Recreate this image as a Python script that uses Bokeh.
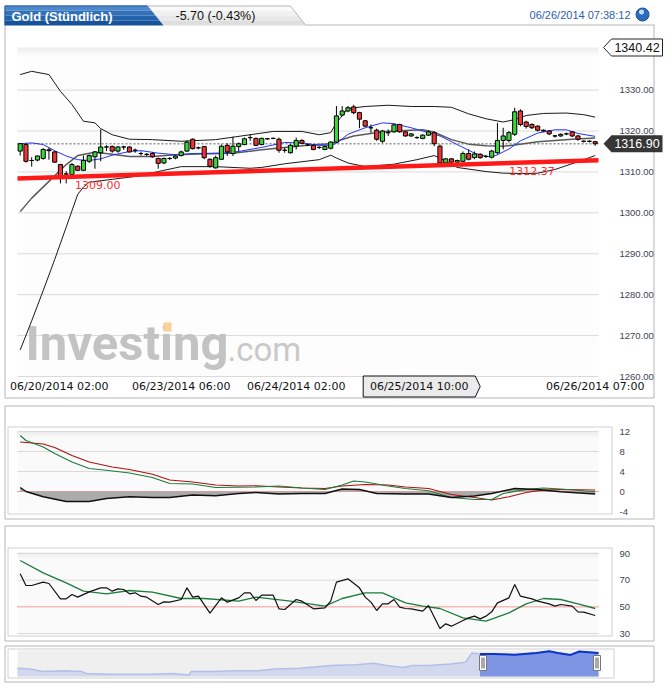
from bokeh.plotting import figure
from bokeh.layouts import column
from bokeh.models import Range1d, ColumnDataSource
from bokeh.core.properties import value
from bokeh.embed import file_html
from bokeh.resources import INLINE

# ---------------------------------------------------------------- data
title_text = "Gold (Stündlich)"
change_text = "-5.70 (-0.43%)"
stamp_text = "06/26/2014 07:38:12"

candle_open = [1315.1, 1316.7, 1312.8, 1312.9, 1313.3, 1315.4, 1314.9, 1311.8, 1309.5, 1309.4,
               1311.4, 1310.4, 1312.6, 1313.7, 1314.7, 1316.1, 1316.2, 1315.1, 1316.1, 1316.1,
               1315.3, 1314.5, 1314.3, 1314.5, 1313.3, 1312.2, 1313.3, 1313.4, 1314.0, 1315.1,
               1318.0, 1315.9, 1316.2, 1313.1, 1311.0, 1313.1, 1316.5, 1314.5, 1316.2, 1316.7,
               1318.4, 1318.2, 1316.7, 1318.1, 1318.2, 1318.0, 1315.3, 1314.7, 1316.3, 1317.7,
               1316.6, 1316.5, 1316.0, 1315.5, 1315.8, 1317.3, 1323.9, 1324.9, 1325.9, 1324.5,
               1322.5, 1320.8, 1320.2, 1317.5, 1319.6, 1319.8, 1321.6, 1319.8, 1318.8, 1318.4,
               1318.2, 1319.0, 1319.6, 1316.3, 1312.2, 1313.2, 1312.4, 1312.6, 1314.5, 1313.5,
               1314.3, 1313.8, 1313.6, 1314.7, 1317.7, 1317.7, 1319.2, 1324.9, 1322.2, 1321.6,
               1321.2, 1320.2, 1320.0, 1318.8, 1318.8, 1319.3, 1319.8, 1318.8, 1317.5, 1317.5,
               1317.4]
candle_high = [1317.1, 1317.0, 1313.6, 1314.0, 1315.8, 1315.9, 1315.1, 1312.0, 1310.2, 1312.2,
               1311.6, 1314.0, 1314.3, 1315.1, 1320.4, 1316.5, 1316.5, 1316.3, 1316.4, 1316.3,
               1315.7, 1315.0, 1314.6, 1314.8, 1313.5, 1313.5, 1313.6, 1314.1, 1315.2, 1317.7,
               1318.2, 1316.2, 1316.4, 1313.3, 1314.0, 1316.7, 1317.0, 1318.6, 1317.2, 1318.4,
               1319.2, 1318.4, 1318.4, 1318.3, 1318.4, 1318.4, 1315.9, 1316.8, 1318.4, 1318.0,
               1316.9, 1316.7, 1316.3, 1316.4, 1317.5, 1326.1, 1326.1, 1326.1, 1326.4, 1324.7,
               1322.7, 1321.6, 1320.6, 1320.3, 1320.4, 1321.8, 1321.8, 1320.0, 1319.5, 1318.7,
               1319.2, 1320.2, 1320.0, 1316.7, 1313.4, 1313.4, 1313.0, 1315.0, 1315.5, 1315.0,
               1314.6, 1314.2, 1315.4, 1322.0, 1320.8, 1320.0, 1325.7, 1325.3, 1322.5, 1321.9,
               1321.4, 1320.4, 1320.2, 1319.0, 1319.4, 1319.6, 1320.0, 1319.0, 1317.7, 1317.7,
               1317.6]
candle_low = [1314.0, 1312.3, 1311.3, 1312.6, 1313.0, 1313.0, 1312.2, 1307.2, 1307.2, 1309.2,
              1310.2, 1310.2, 1312.2, 1310.8, 1312.6, 1315.1, 1314.7, 1314.7, 1315.4, 1314.7,
              1314.7, 1314.0, 1313.9, 1313.5, 1310.8, 1311.9, 1312.9, 1313.1, 1313.8, 1314.9,
              1315.5, 1315.5, 1313.1, 1311.0, 1310.8, 1312.9, 1313.9, 1313.9, 1315.0, 1316.5,
              1317.6, 1316.3, 1316.5, 1317.9, 1318.0, 1314.7, 1314.7, 1314.5, 1315.5, 1316.8,
              1316.3, 1315.3, 1315.6, 1315.3, 1315.5, 1317.1, 1323.6, 1324.6, 1324.1, 1320.7,
              1321.0, 1319.6, 1317.6, 1317.1, 1318.8, 1319.6, 1319.6, 1318.6, 1318.6, 1318.1,
              1318.0, 1318.8, 1316.3, 1312.0, 1311.9, 1312.1, 1312.1, 1312.3, 1312.8, 1313.1,
              1313.2, 1313.4, 1313.3, 1314.3, 1315.5, 1317.2, 1318.8, 1321.2, 1320.6, 1320.5,
              1319.9, 1319.8, 1319.0, 1318.4, 1318.6, 1319.0, 1318.5, 1317.6, 1317.2, 1317.2,
              1316.4]
candle_close = [1316.9, 1312.6, 1312.8, 1313.9, 1315.5, 1315.2, 1312.4, 1309.0, 1309.5, 1311.8,
                1310.4, 1312.8, 1314.0, 1314.9, 1316.1, 1316.1, 1315.1, 1316.1, 1316.1, 1314.9,
                1315.3, 1314.5, 1314.3, 1313.7, 1312.1, 1313.3, 1313.3, 1313.9, 1314.9, 1317.3,
                1315.7, 1315.9, 1313.5, 1311.4, 1313.5, 1316.3, 1314.9, 1316.3, 1316.9, 1318.1,
                1318.4, 1316.5, 1318.2, 1318.1, 1318.2, 1315.3, 1315.3, 1316.5, 1317.7, 1317.0,
                1316.6, 1315.5, 1316.0, 1316.2, 1317.3, 1323.7, 1324.9, 1325.7, 1324.5, 1322.9,
                1321.2, 1320.8, 1318.0, 1320.0, 1319.6, 1321.5, 1319.8, 1318.8, 1319.3, 1318.4,
                1319.0, 1319.8, 1316.9, 1312.2, 1313.2, 1312.4, 1312.8, 1314.5, 1313.1, 1314.4,
                1313.5, 1313.8, 1315.1, 1317.7, 1318.8, 1319.6, 1324.7, 1321.6, 1321.1, 1320.8,
                1320.2, 1320.0, 1319.3, 1318.8, 1319.2, 1319.3, 1318.8, 1318.0, 1317.5, 1317.5,
                1316.9]

time_tick_idx = [28, 48, 100]
time_tick_text = ["06/23/2014 06:00", "06/24/2014 02:00", "06/26/2014 07:00"]
first_time_text = "06/20/2014 02:00"
cursor_idx = 80
cursor_text = "06/25/2014 10:00"

price_ticks = [1260, 1270, 1280, 1290, 1300, 1310, 1320, 1330]
price_low, price_high = 1260.0, 1340.42
last_price = 1316.90

trend_idx = [13.5, 89.0]
trend_val = [1309.00, 1312.37]

bb_up_idx = [0, 2, 5, 7, 9, 11, 13, 14, 16, 19, 23, 28, 34, 40, 44, 49, 52, 54, 55, 57, 60, 64,
             68, 72, 75, 78, 81, 84, 86, 88, 91, 95, 98, 100]
bb_up_val = [1333.8, 1334.6, 1333.8, 1329.7, 1326.5, 1322.4, 1322.0, 1320.6, 1319.1, 1318.0,
             1317.9, 1317.5, 1317.9, 1319.1, 1319.9, 1319.9, 1319.1, 1319.6, 1322.0, 1325.5,
             1326.0, 1326.3, 1326.0, 1326.0, 1325.8, 1324.2, 1323.0, 1322.2, 1322.8, 1323.8,
             1324.3, 1324.4, 1324.0, 1323.4]
bb_mid_idx = [0, 2, 5, 8, 10, 13, 16, 19, 23, 27, 31, 37, 42, 46, 50, 54, 55, 58, 63, 66, 70,
              72, 75, 78, 81, 84, 86, 90, 96, 100]
bb_mid_val = [1300.3, 1303.6, 1307.7, 1311.8, 1314.0, 1314.8, 1314.3, 1313.8, 1313.8, 1314.2,
              1314.4, 1314.6, 1315.4, 1316.0, 1316.5, 1316.9, 1317.5, 1318.8, 1319.8, 1320.1,
              1320.3, 1319.7, 1317.9, 1316.8, 1316.4, 1316.3, 1316.6, 1317.4, 1318.0, 1318.3]
bb_low_idx = [0, 2, 4, 6, 8, 9, 10, 11, 12, 16, 20, 24, 28, 34, 40, 42, 46, 52, 54, 55, 57, 60,
              65, 69, 72, 73, 76, 81, 84, 88, 90, 93, 97, 100]
bb_low_val = [1266.5, 1273.6, 1281.0, 1288.6, 1296.5, 1300.5, 1304.5, 1306.3, 1307.5, 1308.2,
              1308.9, 1310.1, 1311.3, 1311.3, 1310.9, 1311.1, 1312.0, 1313.0, 1314.1, 1313.4,
              1312.2, 1311.3, 1311.9, 1313.0, 1314.0, 1313.4, 1311.1, 1310.1, 1309.7, 1309.6,
              1309.7, 1310.6, 1312.5, 1314.0]
ma_idx = [0, 2, 4, 6, 8, 10, 12, 14, 16, 19, 21, 24, 27, 30, 35, 38, 42, 46, 49, 52, 54, 55,
          57, 60, 63, 65, 68, 71, 73, 76, 79, 81, 82, 83, 85, 87, 90, 93, 95, 97, 100]
ma_val = [1316.9, 1317.1, 1316.7, 1315.2, 1313.9, 1313.0, 1312.8, 1313.2, 1314.1, 1315.0,
          1315.2, 1314.6, 1314.2, 1314.5, 1314.6, 1315.0, 1316.0, 1317.2, 1317.1, 1316.5,
          1316.5, 1317.0, 1319.2, 1320.8, 1322.0, 1321.8, 1320.8, 1319.6, 1318.8, 1316.7,
          1314.6, 1313.8, 1313.7, 1314.2, 1315.6, 1317.6, 1319.5, 1320.3, 1320.3, 1319.4,
          1318.7]

macd_ticks = [-4, 0, 4, 8, 12]
macd_idx = [0, 1, 4, 6, 9, 12, 15, 19, 23, 26, 30, 34, 41, 45, 49, 53, 56, 58, 60, 64, 67,
            71, 75, 79, 82, 84, 88, 91, 94, 100]
macd_val = [11.2, 10.2, 8.9, 7.6, 5.9, 4.6, 4.25, 3.7, 2.8, 1.6, 1.5, 0.8, 0.9, 1.1, 0.7, 0.4,
            1.3, 2.1, 1.9, 1.1, 0.6, 0.15, -1.2, -1.6, -1.6, -0.4, 0.4, 0.7, 0.5, -0.05]
signal_idx = [0, 4, 6, 9, 12, 16, 19, 23, 26, 30, 34, 38, 41, 45, 49, 53, 56, 60, 64, 67, 71,
              75, 79, 82, 85, 88, 91, 94, 100]
signal_val = [9.9, 9.5, 8.8, 7.2, 5.9, 4.9, 4.4, 3.45, 2.3, 1.9, 1.3, 1.1, 1.15, 0.9, 0.7, 0.6,
              1.1, 1.4, 1.3, 0.9, 0.6, -0.6, -1.2, -1.7, -1.05, -0.2, 0.3, 0.4, 0.3]
hist_idx = [0, 1, 4, 8, 12, 15, 19, 23, 26, 30, 34, 38, 41, 45, 49, 53, 56, 59, 62, 67, 71,
            75, 79, 82, 86, 90, 94, 100]
hist_val = [0.8, 0.0, -1.05, -2.0, -2.0, -1.4, -1.05, -1.2, -1.2, -0.7, -0.85, -0.4, -0.2,
            -0.5, -0.4, -0.4, 0.5, 0.4, -0.4, -0.5, -0.5, -1.2, -0.9, -0.4, 0.6, 0.4, -0.05,
            -0.5]

rsi_ticks = [30, 50, 70, 90]
rsi_idx = [0, 1, 2, 4, 5, 7, 8, 9, 10, 12, 14, 15, 16, 17, 18, 19, 20, 21, 22, 24, 25, 26, 28,
           29, 30, 31, 33, 35, 36, 38, 39, 40, 41, 42, 44, 45, 46, 48, 49, 51, 53, 54, 55, 57,
           59, 60, 61, 62, 63, 64, 65, 66, 67, 68, 70, 71, 73, 74, 75, 77, 78, 79, 80, 81, 82,
           83, 85, 86, 87, 89, 90, 92, 93, 94, 96, 97, 98, 100]
rsi_val = [74.75, 66, 66, 68.5, 67.5, 56, 56, 59.25, 57.25, 61.25, 64.25, 64.25, 61.75, 63.5,
           63, 59.75, 60.5, 58, 57.25, 51.75, 53.75, 53.5, 55.5, 64.25, 57.25, 58, 45.25, 56.75,
           53.5, 56.75, 60.5, 60.5, 54.75, 58.75, 58.75, 48.5, 48, 55.5, 54.25, 48.5, 49.25,
           54.25, 68.5, 71, 64.25, 57.25, 53.5, 47.25, 52.25, 52.25, 55.5, 49.75, 48.75, 48.5,
           46.75, 51, 33.75, 37.25, 35.5, 39.75, 41.75, 43, 41, 43, 46.25, 53, 56.75, 66.75, 58,
           56, 54.25, 52.25, 50.5, 51.75, 50.5, 46.25, 46, 43.5]
rsi_ma_idx = [0, 4, 8, 11, 15, 19, 23, 28, 32, 38, 41, 47, 53, 56, 60, 63, 67, 70, 73, 77, 81,
              85, 88, 91, 94, 97, 100]
rsi_ma_val = [84.75, 75.5, 68, 61.75, 59.75, 62.25, 61, 56.25, 56.25, 54.25, 57.25, 54.25, 50.5,
              56.25, 60.5, 60.5, 53, 50.5, 48.75, 41.75, 39.25, 45.5, 52.25, 56.25, 55.5, 52.25,
              48.75]

nav_x = [0, 2.2, 4.4, 8.1, 11.1, 11.8, 15.5, 19.2, 22.9, 26.6, 29.5, 29.9, 33.9, 37.6, 41.3,
         44.3, 48.7, 53.9, 58.3, 61.3, 63.5, 66.4, 67.9, 70.8, 74.5, 77.1, 78.2, 79.6, 81.9,
         85.6, 89.3, 91.5, 93.0, 95.2, 96.7, 100]
nav_h = [32, 29, 19, 22, 19, 12, 9, 9, 9, 12, 6, 19, 19, 22, 22, 29, 32, 42, 45, 51, 42, 35,
         42, 42, 48, 55, 90, 87, 87, 84, 90, 97, 90, 83, 96, 90]
nav_sel_start = 79.6

# ---------------------------------------------------------------- page geometry / style
W = 672
PL, PR = 17, 598            # page x of the plot areas
C0, CW = 19.7, 5.75         # page x of candle 0 and candle spacing
GREEN, RED = "#3bd43b", "#ee3434"
SANS = "Liberation Sans"
VERD = "DejaVu Sans"
LBL_COL = "#3c4650"
BORDER = "#b6b6b6"
INNER = "#d0d0d0"
GRID = "#dadada"


def X(px):  # page x -> candle index
    return (px - C0) / CW


IDX_L, IDX_R = X(PL), X(PR)


def make_fig(height, y_rng, x_rng=(X(0), X(W))):
    p = figure(width=W, height=height, x_range=Range1d(*x_rng), y_range=Range1d(*y_rng),
               output_backend="svg", toolbar_location=None,
               x_axis_location=None, y_axis_location=None, min_border=0,
               outline_line_color=None, background_fill_color="white",
               border_fill_color="white")
    p.xgrid.visible = False
    p.ygrid.visible = False
    return p


def txt(p, x, y, text, size, color, font=SANS, align="left", style="normal",
        baseline="middle"):
    p.text(x=[x], y=[y], text=[text], text_font=value(font), text_font_size=value(size),
           text_color=color, text_align=align, text_baseline=baseline,
           text_font_style=style)


def box(p, fx, fy, x0, y0, x1, y1, color=BORDER):
    p.line([fx(x0), fx(x1), fx(x1), fx(x0), fx(x0)], [fy(y0), fy(y0), fy(y1), fy(y1), fy(y0)],
           line_color=color, line_width=1)


def plot_area(p, fy, y_top, y_bot, bg):
    p.quad(left=X(PL), right=X(PR), top=fy(y_top), bottom=fy(y_bot), fill_color=bg,
           line_color=None)
    for k, c in enumerate(["#ececec", "#f1f1f1", "#f5f5f5", "#f9f9f9"]):
        p.quad(left=X(PL), right=X(PR), top=fy(y_top + k * 2), bottom=fy(y_top + k * 2 + 2),
               fill_color=c, line_color=None)


def hgrid(p, ticks, color=GRID):
    p.segment(x0=[IDX_L] * len(ticks), x1=[IDX_R] * len(ticks), y0=ticks, y1=ticks,
              line_color=color, line_width=1)


def tick_labels(p, ticks, texts):
    p.text(x=[X(619)] * len(ticks), y=ticks, text=texts, text_font=value(SANS),
           text_font_size=value("9.5px"), text_color=LBL_COL, text_align="left",
           text_baseline="middle")


# ================================================================ main panel (page y 0..401)
M_FT, M_FB = 47, 376
M_K = (M_FB - M_FT) / (price_high - price_low)


def MY(py):
    return price_low + (M_FB - py) / M_K


main = make_fig(401, (MY(401), MY(0)))

# header tabs
gray_steps = ["#fbfbfb", "#f1f1f1", "#e8e8e8", "#dedede"]
blue_steps = ["#4d89cb", "#3271b7", "#2363ab", "#16539a"]
for k, (gc, bc) in enumerate(zip(gray_steps, blue_steps)):
    y0, y1 = 5 + 5 * k, 10 + 5 * k
    main.patch([X(147 + (y0 - 5) * 0.8), X(290 + (y0 - 5) * 0.75), X(290 + (y1 - 5) * 0.75),
                X(147 + (y1 - 5) * 0.8)], [MY(y0), MY(y0), MY(y1), MY(y1)],
               fill_color=gc, line_color=None)
    main.patch([X(4), X(147 + (y0 - 5) * 0.8), X(147 + (y1 - 5) * 0.8), X(4)],
               [MY(y0), MY(y0), MY(y1), MY(y1)], fill_color=bc, line_color=None)
main.line([X(147), X(290), X(305), X(654)], [MY(5.5), MY(5.5), MY(24.5), MY(24.5)],
          line_color=BORDER)
main.line([X(4.5), X(4.5), X(147)], [MY(25), MY(5.5), MY(5.5)], line_color="#2a5d9c")
txt(main, X(11), MY(15.5), title_text, "13px", "white", style="bold")
txt(main, X(175), MY(15.5), change_text, "12.5px", "#111111")
txt(main, X(630), MY(14.5), stamp_text, "11px", "#2a62aa", align="right")
main.scatter([X(642)], [MY(14)], marker="circle", size=13, fill_color="#2c6cc0",
             line_color="#1b4f92")
main.scatter([X(641)], [MY(11.5)], marker="circle", size=5, fill_color="white",
             fill_alpha=0.75, line_color=None)

# panel border
main.line([X(4.5), X(4.5), X(653.5), X(653.5)], [MY(25), MY(397.5), MY(397.5), MY(24.5)],
          line_color=BORDER)

plot_area(main, MY, M_FT, M_FB, "#fdfdfd")
hgrid(main, price_ticks)
tick_labels(main, price_ticks, [f"{t:.2f}" for t in price_ticks])

# watermark
txt(main, X(25), MY(343), "Investing", "49px", "#c3c3c3", font="Roboto", style="bold")
txt(main, X(227), MY(348.5), ".com", "33px", "#c9c9c9", font="Roboto")
main.quad(left=X(163), right=X(171), top=MY(322), bottom=MY(331), fill_color="#f7d196",
          line_color=None)

# current price dotted line
main.line([IDX_L, IDX_R], [last_price, last_price], line_color="#8f8f8f", line_dash="2 2",
          line_width=1.5)

main.line(bb_up_idx, bb_up_val, line_color="#1a1a1a", line_width=1)
main.line(bb_low_idx, bb_low_val, line_color="#1a1a1a", line_width=1)
main.line(bb_mid_idx, bb_mid_val, line_color="#5a5a5a", line_width=1.5)
main.line(ma_idx, ma_val, line_color="#2233ff", line_width=1)

n = len(candle_open)
src = ColumnDataSource(dict(
    x=list(range(n)), h=candle_high, l=candle_low,
    top=[max(o, c) for o, c in zip(candle_open, candle_close)],
    bot=[min(o, c) for o, c in zip(candle_open, candle_close)],
    col=[GREEN if c >= o else RED for o, c in zip(candle_open, candle_close)]))
main.segment(x0="x", y0="l", x1="x", y1="h", source=src, line_color="black", line_width=1)
main.vbar(x="x", width=0.72, top="top", bottom="bot", source=src, fill_color="col",
          line_color="black", line_width=1)

# trend line through its two anchors, across the plot area
g = (trend_val[1] - trend_val[0]) / (trend_idx[1] - trend_idx[0])
main.line([IDX_L, IDX_R], [trend_val[0] + g * (IDX_L - trend_idx[0]),
                           trend_val[0] + g * (IDX_R - trend_idx[0])],
          line_color="#ff1a1a", line_width=4.5)
for i, v in zip(trend_idx, trend_val):
    txt(main, i, v - 9 / M_K, f"{v:.2f}", "11px", "#ff3030", font=VERD, align="center")

# max / last price markers
for val, fill, line, tcol in [(price_high, "white", "#222222", "#111111"),
                              (last_price, "#363636", None, "white")]:
    yc = M_FB - (val - price_low) * M_K
    main.patch([X(603), X(611), X(662), X(662), X(611)],
               [val, MY(yc - 8.5), MY(yc - 8.5), MY(yc + 8.5), MY(yc + 8.5)],
               fill_color=fill, line_color=line)
    txt(main, X(636.5), val, f"{val:.2f}", "12.5px", tcol, align="center")

# time axis labels
txt(main, X(9.5), MY(385.5), first_time_text, "11px", "#111111", font=VERD)
for i, t in zip(time_tick_idx, time_tick_text):
    txt(main, i, MY(385.5), t, "11px", "#111111", font=VERD, align="center")
tip = C0 + CW * cursor_idx
main.patch([X(tip - 117), X(tip - 5), X(tip), X(tip - 5), X(tip - 117)],
           [MY(375.5), MY(375.5), MY(386), MY(396.5), MY(396.5)],
           fill_color="#ebebeb", line_color="#111111")
txt(main, X(tip - 61), MY(386), cursor_text, "11px", "#111111", font=VERD, align="center")

# ================================================================ MACD panel (page y 401..521)
D_FT, D_FB, D_TOP_V, D_BOT_V = 431, 511, 12.0, -4.0
D_K = (D_FB - D_FT) / (D_TOP_V - D_BOT_V)


def DY(py):
    return D_TOP_V - (py - D_FT) / D_K


macd = make_fig(120, (DY(521), DY(401)))
box(macd, X, DY, 4.5, 405.5, 653.5, 518.5)
box(macd, X, DY, 7.5, 426.5, 611.5, 513.5, INNER)
plot_area(macd, DY, D_FT, D_FB, "#fafafa")
hgrid(macd, [4, 8, 12])
tick_labels(macd, macd_ticks, [str(t) for t in macd_ticks])
macd.line([IDX_L, IDX_R], [0, 0], line_color="#ff3b3b", line_dash="1 1", line_width=1)
macd.varea(x=hist_idx, y1=hist_val, y2=[0] * len(hist_idx), fill_color="#a6a6a6",
           fill_alpha=0.95)
macd.line(signal_idx, signal_val, line_color="#b01010", line_width=1.2)
macd.line(macd_idx, macd_val, line_color="#1c7c3c", line_width=1.2)
macd.line(hist_idx, hist_val, line_color="#111111", line_width=1.5)

# ================================================================ RSI panel (page y 521..643)
R_FT, R_FB, R_TOP_V, R_BOT_V = 552, 634, 90.75, 29.25
R_K = (R_FB - R_FT) / (R_TOP_V - R_BOT_V)


def RY(py):
    return R_TOP_V - (py - R_FT) / R_K


rsi = make_fig(122, (RY(643), RY(521)))
box(rsi, X, RY, 4.5, 525.5, 653.5, 640.5)
box(rsi, X, RY, 7.5, 547.5, 611.5, 635.5, INNER)
plot_area(rsi, RY, R_FT, R_FB, "#fafafa")
hgrid(rsi, [30, 70, 90])
tick_labels(rsi, rsi_ticks, [str(t) for t in rsi_ticks])
rsi.line([IDX_L, IDX_R], [50, 50], line_color="#ff3b3b", line_dash="1 1", line_width=1)
rsi.line(rsi_ma_idx, rsi_ma_val, line_color="#1c7c3c", line_width=1.3)
rsi.line(rsi_idx, rsi_val, line_color="#111111", line_width=1.2)

# ================================================================ navigator (page y 643..694)
N_FT, N_FB = 650, 676


def NX(px):
    return (px - PL) / (PR - PL) * 100


def NY(py):
    return (N_FB - py) / (N_FB - N_FT) * 100


nav = make_fig(51, (NY(694), NY(643)), x_rng=(NX(0), NX(W)))
box(nav, NX, NY, 4.5, 645.5, 653.5, 681.5)
box(nav, NX, NY, 7.5, 648.5, 613.5, 677.5, INNER)
nav.quad(left=0, right=100, top=100, bottom=0, fill_color="#efefef", line_color=None)
nav.varea(x=nav_x, y1=nav_h, y2=[0] * len(nav_x), fill_color="#d2d8ee")
nav.line(nav_x, nav_h, line_color="#b3bfe6", line_width=1.5)
sel_x = [x for x in nav_x if x >= nav_sel_start]
sel_h = [h for x, h in zip(nav_x, nav_h) if x >= nav_sel_start]
nav.varea(x=sel_x, y1=sel_h, y2=[0] * len(sel_x), fill_color="#7d95e3")
nav.line(sel_x, sel_h, line_color="#0c32cc", line_width=2)
for hx in (482.5, 596.5):
    nav.quad(left=NX(hx - 3.5), right=NX(hx + 3.5), bottom=NY(670), top=NY(655),
             fill_color="white", line_color="#777777")
    nav.segment(x0=[NX(hx - 1), NX(hx + 1)], x1=[NX(hx - 1), NX(hx + 1)],
                y0=[NY(668)] * 2, y1=[NY(657)] * 2, line_color="#555555")

layout = column(main, macd, rsi, nav, spacing=0)
open("out.html", "w").write(file_html(layout, INLINE))
